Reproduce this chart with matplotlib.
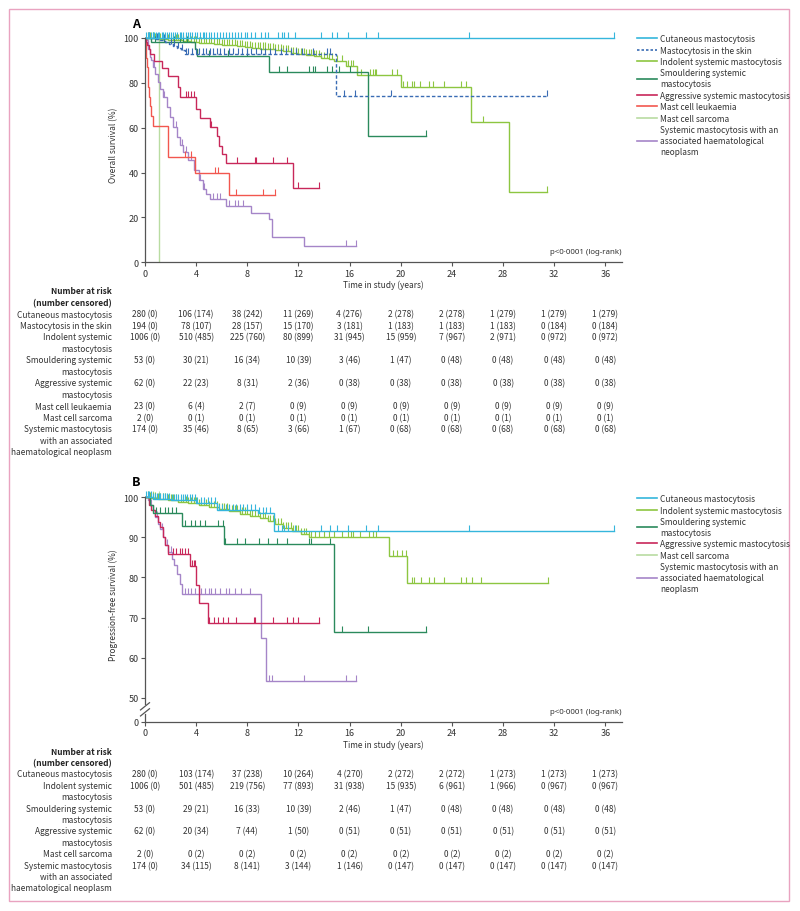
import numpy as np
import matplotlib
matplotlib.use('Agg')
import matplotlib.pyplot as plt
from matplotlib.lines import Line2D
from matplotlib.patches import Rectangle
from matplotlib.transforms import blended_transform_factory

plt.rcParams['font.family'] = ['Noto Sans CJK JP', 'DejaVu Sans']
FS = 6.0
TFS = 6.5

# colours
C_CUT = '#35b6dc'
C_SKIN = '#3a6cb4'
C_ISM = '#8dc641'
C_SSM = '#2b8a5c'
C_ASM = '#c8285a'
C_MCL = '#f2574f'
C_MCS = '#b9dca2'
C_AHN = '#a585c8'

# ---------------- panel A: overall survival ----------------
a_cut_t = [36.7]
a_cut_s = [100]
a_cut_end = 36.7
a_cut_cens = [0.1, 0.2, 0.3, 0.45, 0.6, 0.7, 0.85, 1.0, 1.1, 1.3, 1.4, 1.55, 1.7, 1.9, 2.0, 2.2,
              2.35, 2.5, 2.7, 2.85, 3.0, 3.2, 3.4, 3.5, 3.7, 3.9, 4.1, 4.3, 4.5, 4.6, 4.8, 5.0,
              5.2, 5.4, 5.6, 5.9, 6.1, 6.3, 6.6, 6.8, 7.0, 7.3, 7.5, 7.8, 8.0, 8.3, 8.6, 9.1,
              9.4, 9.6, 10.4, 10.7, 10.9, 11.2, 11.7, 13.8, 14.6, 15.0, 15.9, 17.3, 18.2, 25.3, 36.7]

a_skin_t = [0.8, 1.2, 1.6, 1.9, 2.2, 2.5, 2.8, 3.1, 14.9]
a_skin_s = [99.5, 98.9, 98.2, 97.4, 96.6, 95.7, 94.8, 93.0, 74.1]
a_skin_end = 31.4
a_skin_cens = [0.3, 0.9, 1.5, 2.0, 2.3, 2.6, 2.9, 3.2, 3.4, 3.7, 4.0, 4.2, 4.5, 4.8, 5.1, 5.3, 5.6,
               5.9, 6.2, 6.6, 6.9, 7.3, 7.6, 8.0, 8.3, 8.7, 9.1, 9.4, 9.8, 10.2, 10.6, 11.0, 11.4,
               11.8, 12.3, 13.1, 14.2, 14.5, 15.6, 16.4, 19.2, 31.4]

a_ism_t = [0.3, 0.8, 1.3, 1.8, 2.4, 3.0, 3.6, 4.2, 4.8, 5.4, 6.0, 6.6, 7.2, 7.8, 8.4, 9.0, 9.6,
           10.2, 10.8, 11.4, 12.0, 12.6, 13.2, 13.8, 14.4, 14.8, 15.7, 16.6, 20.0, 25.5, 28.5]
a_ism_s = [99.9, 99.7, 99.5, 99.2, 98.9, 98.6, 98.3, 97.9, 97.6, 97.3, 97.0, 96.7, 96.4, 96.1,
           95.7, 95.3, 94.9, 94.5, 94.0, 93.5, 93.0, 92.4, 91.8, 91.0, 90.5, 89.9, 87.6, 83.5,
           78.0, 62.4, 31.5]
a_ism_end = 31.4
a_ism_cens = [0.2, 0.4, 0.6, 0.8, 1.0, 1.2, 1.4, 1.6, 1.8, 2.0, 2.2, 2.4, 2.6, 2.8, 3.0, 3.2, 3.4,
              3.6, 3.8, 4.0, 4.2, 4.4, 4.6, 4.8, 5.0, 5.2, 5.4, 5.6, 5.8, 6.0, 6.2, 6.4, 6.6, 6.8,
              7.0, 7.2, 7.4, 7.6, 7.8, 8.0, 8.2, 8.4, 8.6, 8.8, 9.0, 9.2, 9.4, 9.6, 9.8, 10.0,
              10.2, 10.4, 10.6, 10.8, 11.0, 11.2, 11.4, 11.6, 11.8, 12.0, 12.2, 12.4, 12.6, 12.8,
              13.0, 13.2, 13.4, 13.6, 13.8, 14.0, 14.2, 14.4, 14.6, 15.0, 15.4, 15.9, 16.1, 16.3,
              16.9, 17.6, 17.8, 18.0, 18.1, 19.3, 19.7, 20.2, 20.5, 20.9, 21.0, 21.5, 22.2, 22.5,
              23.4, 24.7, 25.1, 26.4, 31.4]

a_ssm_t = [0.5, 3.9, 4.1, 9.7, 17.4]
a_ssm_s = [98.1, 95.0, 92.0, 84.7, 56.5]
a_ssm_end = 22.0
a_ssm_cens = [0.8, 1.5, 2.3, 2.7, 3.0, 3.3, 5.0, 6.5, 8.0, 10.5, 11.1, 12.8, 13.1, 13.3, 14.2,
              14.6, 15.2, 16.0, 22.0]

a_asm_t = [0.05, 0.15, 0.3, 0.4, 0.7, 1.3, 1.8, 2.6, 2.7, 4.0, 4.3, 5.1, 5.6, 5.8, 6.0, 6.3, 11.6]
a_asm_s = [98.4, 96.8, 95.1, 92.9, 89.9, 86.6, 82.9, 78.0, 73.8, 68.3, 64.3, 60.2, 56.4, 52.0,
           48.3, 44.1, 33.1]
a_asm_end = 13.6
a_asm_cens = [3.2, 3.4, 3.6, 3.8, 5.2, 7.2, 8.6, 8.7, 10.0, 11.1, 12.0, 13.6]

a_mcl_t = [0.05, 0.1, 0.15, 0.2, 0.25, 0.3, 0.4, 0.5, 0.6, 1.8, 3.9, 6.6]
a_mcl_s = [95.7, 91.3, 87.0, 82.6, 78.3, 73.9, 69.6, 65.2, 60.9, 46.9, 39.9, 29.9]
a_mcl_end = 10.2
a_mcl_cens = [3.1, 3.6, 5.5, 5.7, 7.1, 9.2, 10.2]

a_mcs_t = [1.1]
a_mcs_s = [0]
a_mcs_end = 1.1
a_mcs_cens = [0.6]

a_ahn_t = [0.1, 0.26, 0.4, 0.5, 0.65, 0.8, 1.04, 1.2, 1.43, 1.7, 1.95, 2.2, 2.5, 2.7, 3.0, 3.4,
           3.8, 4.2, 4.55, 4.8, 5.1, 6.3, 8.3, 9.7, 9.96, 12.4]
a_ahn_s = [99.0, 95.2, 91.5, 90.0, 87.1, 84.1, 80.4, 77.4, 73.7, 69.2, 64.8, 60.3, 55.9, 52.2,
           49.2, 45.5, 41.0, 36.6, 32.8, 30.6, 28.4, 25.0, 22.0, 19.3, 11.1, 7.4]
a_ahn_end = 16.5
a_ahn_cens = [0.7, 1.5, 2.4, 2.9, 3.2, 3.6, 3.9, 4.3, 4.6, 5.3, 5.6, 5.9, 6.6, 7.0, 7.3, 7.7,
              15.7, 16.5]

# ---------------- panel B: progression-free survival ----------------
b_cut_t = [0.6, 2.0, 4.0, 5.6, 8.8, 10.1]
b_cut_s = [99.6, 99.2, 98.5, 96.8, 96.0, 91.5]
b_cut_end = 36.7
b_cut_cens = [0.1, 0.2, 0.35, 0.5, 0.6, 0.8, 0.9, 1.1, 1.2, 1.4, 1.6, 1.7, 1.9, 2.1, 2.3, 2.4,
              2.6, 2.8, 3.0, 3.1, 3.3, 3.5, 3.7, 3.9, 4.1, 4.4, 4.6, 4.9, 5.2, 5.5, 5.8, 6.0,
              6.3, 6.6, 6.9, 7.1, 7.4, 7.7, 8.0, 8.3, 8.6, 8.9, 9.2, 9.5, 9.8, 10.4, 10.7, 10.9,
              11.2, 11.7, 13.8, 14.5, 15.0, 15.9, 17.3, 18.2, 25.3, 36.7]

b_ism_t = [0.3, 1.0, 1.8, 2.6, 3.4, 4.2, 5.0, 5.8, 6.6, 7.4, 8.2, 9.0, 9.6, 10.2, 10.8, 11.5,
           12.2, 12.8, 19.1, 20.5]
b_ism_s = [99.8, 99.5, 99.2, 98.8, 98.4, 98.0, 97.6, 97.1, 96.5, 95.9, 95.3, 94.7, 94.1, 93.3,
           92.4, 91.6, 90.9, 90.1, 85.2, 78.6]
b_ism_end = 31.5
b_ism_cens = [0.2, 0.4, 0.6, 0.8, 1.0, 1.2, 1.4, 1.6, 1.8, 2.0, 2.2, 2.4, 2.6, 2.8, 3.0, 3.2, 3.4,
              3.6, 3.8, 4.0, 4.2, 4.4, 4.6, 4.8, 5.0, 5.2, 5.4, 5.6, 5.8, 6.0, 6.2, 6.4, 6.6, 6.8,
              7.0, 7.2, 7.4, 7.6, 7.8, 8.0, 8.2, 8.4, 8.6, 8.8, 9.0, 9.2, 9.4, 9.6, 9.8, 10.0,
              10.2, 10.4, 10.6, 10.8, 11.0, 11.2, 11.4, 11.6, 11.8, 12.0, 12.2, 12.4, 12.6, 12.8,
              13.0, 13.3, 13.6, 14.0, 14.4, 14.8, 15.4, 15.9, 16.1, 16.3, 16.8, 17.5, 17.8, 18.1,
              19.4, 19.7, 20.1, 20.4, 20.9, 21.0, 21.6, 22.2, 22.6, 23.4, 24.7, 25.1, 25.6, 26.3,
              31.5]

b_ssm_t = [0.4, 0.65, 2.9, 6.2, 14.8]
b_ssm_s = [98.1, 96.0, 92.8, 88.4, 66.4]
b_ssm_end = 22.0
b_ssm_cens = [0.86, 1.2, 1.6, 1.8, 2.1, 2.4, 3.1, 3.6, 3.9, 4.3, 4.7, 5.7, 6.1, 6.25, 7.2, 7.8,
              8.9, 9.6, 10.3, 11.1, 12.8, 13.0, 14.5, 15.4, 17.4, 22.0]

b_asm_t = [0.3, 0.5, 0.8, 1.0, 1.2, 1.4, 1.6, 1.8, 3.5, 4.0, 4.2, 4.95]
b_asm_s = [97.9, 96.7, 95.4, 93.8, 92.5, 90.0, 88.0, 85.9, 82.8, 78.0, 73.6, 68.7]
b_asm_end = 13.6
b_asm_cens = [2.2, 2.4, 2.7, 2.9, 3.1, 3.4, 3.7, 3.8, 3.9, 5.0, 5.4, 5.7, 6.1, 6.5, 7.1, 8.5,
              8.6, 10.0, 11.1, 11.6, 12.0, 13.6]

b_mcs_t = []
b_mcs_s = []
b_mcs_end = 1.1
b_mcs_cens = [0.6, 1.1]

b_ahn_t = [0.2, 0.4, 0.6, 0.8, 1.0, 1.2, 1.4, 1.6, 1.8, 2.1, 2.3, 2.5, 2.7, 2.9, 9.1, 9.5]
b_ahn_s = [99.2, 97.9, 96.7, 95.0, 93.4, 92.1, 90.0, 88.0, 86.3, 84.7, 83.0, 80.9, 78.4, 75.8,
           64.8, 54.2]
b_ahn_end = 16.5
b_ahn_cens = [0.5, 0.9, 1.3, 1.7, 2.0, 3.1, 3.4, 3.6, 3.9, 4.2, 4.4, 4.7, 5.0, 5.2, 5.5, 5.9,
              6.3, 6.6, 7.0, 7.5, 8.2, 9.7, 9.9, 12.4, 15.7, 16.5]

# ---------------- number at risk tables ----------------
risk_times = [0, 4, 8, 12, 16, 20, 24, 28, 32, 36]

a_rows = [
    (['Cutaneous mastocytosis'],
     [(280, 0), (106, 174), (38, 242), (11, 269), (4, 276), (2, 278), (2, 278), (1, 279), (1, 279), (1, 279)]),
    (['Mastocytosis in the skin'],
     [(194, 0), (78, 107), (28, 157), (15, 170), (3, 181), (1, 183), (1, 183), (1, 183), (0, 184), (0, 184)]),
    (['Indolent systemic', 'mastocytosis'],
     [(1006, 0), (510, 485), (225, 760), (80, 899), (31, 945), (15, 959), (7, 967), (2, 971), (0, 972), (0, 972)]),
    (['Smouldering systemic', 'mastocytosis'],
     [(53, 0), (30, 21), (16, 34), (10, 39), (3, 46), (1, 47), (0, 48), (0, 48), (0, 48), (0, 48)]),
    (['Aggressive systemic', 'mastocytosis'],
     [(62, 0), (22, 23), (8, 31), (2, 36), (0, 38), (0, 38), (0, 38), (0, 38), (0, 38), (0, 38)]),
    (['Mast cell leukaemia'],
     [(23, 0), (6, 4), (2, 7), (0, 9), (0, 9), (0, 9), (0, 9), (0, 9), (0, 9), (0, 9)]),
    (['Mast cell sarcoma'],
     [(2, 0), (0, 1), (0, 1), (0, 1), (0, 1), (0, 1), (0, 1), (0, 1), (0, 1), (0, 1)]),
    (['Systemic mastocytosis', 'with an associated', 'haematological neoplasm'],
     [(174, 0), (35, 46), (8, 65), (3, 66), (1, 67), (0, 68), (0, 68), (0, 68), (0, 68), (0, 68)]),
]

b_rows = [
    (['Cutaneous mastocytosis'],
     [(280, 0), (103, 174), (37, 238), (10, 264), (4, 270), (2, 272), (2, 272), (1, 273), (1, 273), (1, 273)]),
    (['Indolent systemic', 'mastocytosis'],
     [(1006, 0), (501, 485), (219, 756), (77, 893), (31, 938), (15, 935), (6, 961), (1, 966), (0, 967), (0, 967)]),
    (['Smouldering systemic', 'mastocytosis'],
     [(53, 0), (29, 21), (16, 33), (10, 39), (2, 46), (1, 47), (0, 48), (0, 48), (0, 48), (0, 48)]),
    (['Aggressive systemic', 'mastocytosis'],
     [(62, 0), (20, 34), (7, 44), (1, 50), (0, 51), (0, 51), (0, 51), (0, 51), (0, 51), (0, 51)]),
    (['Mast cell sarcoma'],
     [(2, 0), (0, 2), (0, 2), (0, 2), (0, 2), (0, 2), (0, 2), (0, 2), (0, 2), (0, 2)]),
    (['Systemic mastocytosis', 'with an associated', 'haematological neoplasm'],
     [(174, 0), (34, 115), (8, 141), (3, 144), (1, 146), (0, 147), (0, 147), (0, 147), (0, 147), (0, 147)]),
]

a_legend = [('Cutaneous mastocytosis', C_CUT, '-'),
            ('Mastocytosis in the skin', C_SKIN, (0, (1.5, 1.2))),
            ('Indolent systemic mastocytosis', C_ISM, '-'),
            ('Smouldering systemic\nmastocytosis', C_SSM, '-'),
            ('Aggressive systemic mastocytosis', C_ASM, '-'),
            ('Mast cell leukaemia', C_MCL, '-'),
            ('Mast cell sarcoma', C_MCS, '-'),
            ('Systemic mastocytosis with an\nassociated haematological\nneoplasm', C_AHN, '-')]
b_legend = [a_legend[i] for i in (0, 2, 3, 4, 6, 7)]

W, H = 800, 912


def px_rect(x0, y0, x1, y1):
    return [x0 / W, 1 - y1 / H, (x1 - x0) / W, (y1 - y0) / H]


def draw_km(ax, times, survs, end, cens, color, tick_h, ls='-', lw=1.0):
    xs = [0] + list(times) + [end]
    ys = [100] + list(survs) + [survs[-1] if survs else 100]
    ax.step(xs, ys, where='post', color=color, lw=lw, ls=ls, solid_joinstyle='miter')
    st = np.array([0] + list(times))
    sv = np.array([100] + list(survs))
    c = np.array(cens)
    idx = np.searchsorted(st, c, side='right') - 1
    base = sv[idx]
    ax.vlines(c, base, base + tick_h, color=color, lw=0.8)


def style_axis(ax):
    for s in ('top', 'right'):
        ax.spines[s].set_visible(False)
    for s in ('left', 'bottom'):
        ax.spines[s].set_color('#555555')
        ax.spines[s].set_linewidth(0.9)
    ax.tick_params(length=3, width=0.8, color='#555555', labelsize=TFS, labelcolor='#333333', pad=1.5)
    ax.set_xlim(0, 37.3)
    ax.set_xticks(risk_times)
    ax.set_xlabel('Time in study (years)', fontsize=FS, color='#333333', labelpad=1.5)


def risk_table(fig, ax, rows, y0, lh):
    tr = blended_transform_factory(ax.transData, fig.transFigure)
    fig.text(112 / W, 1 - (y0 - 2 * lh) / H, 'Number at risk', ha='right', va='center',
             fontsize=FS, fontweight='bold', color='#222222')
    fig.text(112 / W, 1 - (y0 - lh) / H, '(number censored)', ha='right', va='center',
             fontsize=FS, fontweight='bold', color='#222222')
    k = 0
    for lines, vals in rows:
        for j, line in enumerate(lines):
            fig.text(112 / W, 1 - (y0 + (k + j) * lh) / H, line, ha='right', va='center',
                     fontsize=FS, color='#333333')
        for t, (n, c) in zip(risk_times, vals):
            fig.text(t, 1 - (y0 + k * lh) / H, f'{n} ({c})', transform=tr, ha='center',
                     va='center', fontsize=FS, color='#333333')
        k += len(lines)


def legend(fig, entries, ytop):
    handles = [Line2D([0], [0], color=c, ls=ls, lw=1.2) for _, c, ls in entries]
    labels = [l for l, _, _ in entries]
    leg = fig.legend(handles, labels, loc='upper left', bbox_to_anchor=(637 / W, 1 - ytop / H),
                     frameon=False, fontsize=FS, handlelength=2.4, handletextpad=0.4,
                     labelspacing=0.3, borderpad=0, borderaxespad=0, labelcolor='#333333')
    for t in leg.get_texts():
        t.set_linespacing(1.25)


def pvalue(ax):
    ax.text(1.0, 0.03, 'p<0\u00b70001 (log-rank)', transform=ax.transAxes, ha='right',
            va='bottom', fontsize=5.7, color='#333333', family=['Noto Sans', 'DejaVu Sans'])


fig = plt.figure(figsize=(8, 9.12), dpi=100)

# ---------- panel A ----------
axA = fig.add_axes(px_rect(145, 28, 622, 263.3))
style_axis(axA)
axA.set_ylim(0, 104.9)
axA.set_yticks([0, 20, 40, 60, 80, 100])
axA.spines['left'].set_bounds(0, 100)
axA.set_ylabel('Overall survival (%)', fontsize=FS, color='#333333', labelpad=4)
hA = 2.7
draw_km(axA, a_mcs_t, a_mcs_s, a_mcs_end, a_mcs_cens, C_MCS, hA)
draw_km(axA, a_ahn_t, a_ahn_s, a_ahn_end, a_ahn_cens, C_AHN, hA)
draw_km(axA, a_mcl_t, a_mcl_s, a_mcl_end, a_mcl_cens, C_MCL, hA)
draw_km(axA, a_asm_t, a_asm_s, a_asm_end, a_asm_cens, C_ASM, hA)
draw_km(axA, a_ism_t, a_ism_s, a_ism_end, a_ism_cens, C_ISM, hA)
draw_km(axA, a_ssm_t, a_ssm_s, a_ssm_end, a_ssm_cens, C_SSM, hA)
draw_km(axA, a_skin_t, a_skin_s, a_skin_end, a_skin_cens, C_SKIN, hA, ls=(0, (2.5, 1.5)))
draw_km(axA, a_cut_t, a_cut_s, a_cut_end, a_cut_cens, C_CUT, hA)
pvalue(axA)
fig.text(136 / W, 1 - 24 / H, 'A', fontsize=9, fontweight='bold', ha='center', va='center')
legend(fig, a_legend, 35)
risk_table(fig, axA, a_rows, 315, 11.5)

# ---------- panel B ----------
axB = fig.add_axes(px_rect(145, 488, 622, 723))
style_axis(axB)
axB.set_ylim(44, 102.5)
axB.set_yticks([44, 50, 60, 70, 80, 90, 100])
axB.set_yticklabels(['0', '50', '60', '70', '80', '90', '100'])
axB.spines['left'].set_bounds(48.5, 100)
axB.plot([0, 0], [44, 46], color='#555555', lw=0.9, clip_on=False)
for yc in (46.4, 47.9):
    axB.plot([-0.35, 0.35], [yc - 0.9, yc + 0.9], color='#555555', lw=0.9, clip_on=False)
axB.set_ylabel('Progression-free survival (%)', fontsize=FS, color='#333333', labelpad=4)
hB = 1.5
draw_km(axB, b_mcs_t, b_mcs_s, b_mcs_end, b_mcs_cens, C_MCS, hB)
draw_km(axB, b_ahn_t, b_ahn_s, b_ahn_end, b_ahn_cens, C_AHN, hB)
draw_km(axB, b_asm_t, b_asm_s, b_asm_end, b_asm_cens, C_ASM, hB)
draw_km(axB, b_ism_t, b_ism_s, b_ism_end, b_ism_cens, C_ISM, hB)
draw_km(axB, b_ssm_t, b_ssm_s, b_ssm_end, b_ssm_cens, C_SSM, hB)
draw_km(axB, b_cut_t, b_cut_s, b_cut_end, b_cut_cens, C_CUT, hB)
pvalue(axB)
fig.text(136 / W, 1 - 483 / H, 'B', fontsize=9, fontweight='bold', ha='center', va='center')
legend(fig, b_legend, 495)
risk_table(fig, axB, b_rows, 775, 11.4)

# pink frame
fig.patches.append(Rectangle((9 / W, 1 - 902 / H), 780 / W, 892 / H, transform=fig.transFigure,
                             fill=False, edgecolor='#e9a3c0', lw=1.0))

fig.savefig('out.png', dpi=100)
